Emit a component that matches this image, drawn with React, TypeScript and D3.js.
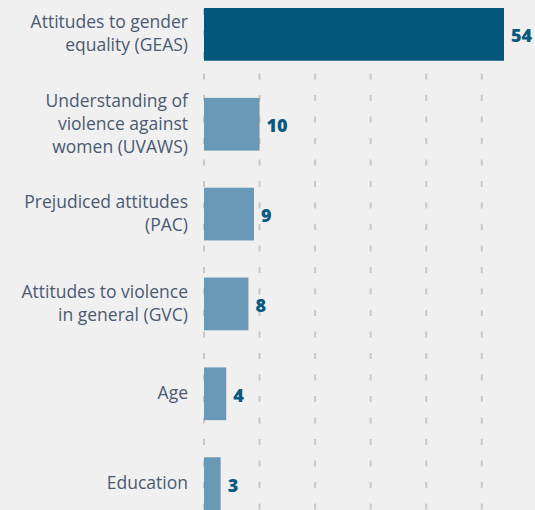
import { useRef, useEffect } from "react";
import * as d3 from "d3";

// categories (label lines) and values
const categories = [
  "Attitudes to gender equality (GEAS)",
  "Understanding of violence against women (UVAWS)",
  "Prejudiced attitudes (PAC)",
  "Attitudes to violence in general (GVC)",
  "Age",
  "Education",
];
const labelLines = [
  ["Attitudes to gender", "equality (GEAS)"],
  ["Understanding of", "violence against", "women (UVAWS)"],
  ["Prejudiced attitudes", "(PAC)"],
  ["Attitudes to violence", "in general (GVC)"],
  ["Age"],
  ["Education"],
];
const values = [54, 10, 9, 8, 4, 3];
const gridTicks = [0, 10, 20, 30, 40, 50, 60];

const W = 535;
const H = 510;

export default function App() {
  const ref = useRef<SVGSVGElement | null>(null);

  useEffect(() => {
    document.body.style.margin = "0";
    document.body.style.background = "#f0f0f0";
    if (!ref.current) return;
    const svg = d3.select(ref.current);
    svg.selectAll("*").remove();

    const x = d3.scaleLinear().domain([0, 54]).range([204, 504]);
    const y = d3.scaleBand<string>().domain(categories).range([8, 510]).paddingInner(0.413).paddingOuter(0);

    svg.append("rect").attr("width", W).attr("height", H).attr("fill", "#f0f0f0");

    // dashed grid
    svg.append("g").selectAll("line").data(gridTicks).join("line")
      .attr("x1", d => x(d)).attr("x2", d => x(d))
      .attr("y1", 9).attr("y2", H)
      .attr("stroke", "#c8c8c8").attr("stroke-width", 2)
      .attr("stroke-dasharray", "6,15.5");

    // bars
    svg.append("g").selectAll("rect").data(values).join("rect")
      .attr("x", x(0))
      .attr("y", (_, i) => y(categories[i]) as number)
      .attr("width", d => x(d) - x(0))
      .attr("height", y.bandwidth())
      .attr("fill", (_, i) => i === 0 ? "#02577a" : "#6a99b8");

    // values
    svg.append("g").selectAll("text").data(values).join("text")
      .attr("x", d => x(d) + 7)
      .attr("y", (_, i) => (y(categories[i]) as number) + y.bandwidth() / 2 + 8)
      .attr("font-family", "'Open Sans', sans-serif").attr("font-weight", 800)
      .attr("font-size", 18).attr("fill", "#0b5a7e")
      .text(d => d);

    // category labels
    const lh = 23;
    labelLines.forEach((lines, i) => {
      const cy = (y(categories[i]) as number) + y.bandwidth() / 2;
      const t = svg.append("text")
        .attr("text-anchor", "end")
        .attr("font-family", "'Open Sans', sans-serif").attr("font-size", 17.5)
        .attr("fill", "#4b5a72");
      lines.forEach((ln, j) => {
        t.append("tspan").attr("x", 188)
          .attr("y", cy + 5.5 + (j - (lines.length - 1) / 2) * lh)
          .text(ln);
      });
    });
  }, []);

  return <svg ref={ref} width={W} height={H} style={{ display: "block" }} />;
}
